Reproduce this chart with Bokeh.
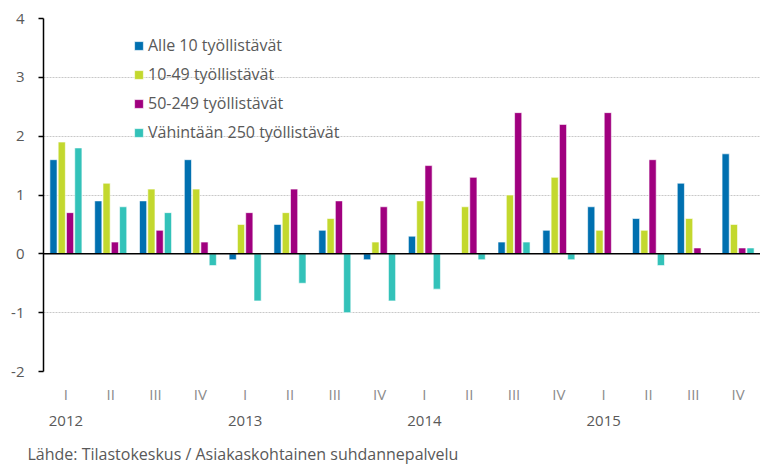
from bokeh.plotting import figure
from bokeh.models import (Range1d, FixedTicker, LinearAxis, Legend, LegendItem,
                          Span, Title, ColumnDataSource, Grid)
from bokeh.embed import file_html
from bokeh.resources import INLINE

quarters = ["I", "II", "III", "IV"] * 4
years = ["2012", "2013", "2014", "2015"]
series_names = ["Alle 10 työllistävät", "10-49 työllistävät",
                "50-249 työllistävät", "Vähintään 250 työllistävät"]
alle10 = [1.6, 0.9, 0.9, 1.6, -0.1, 0.5, 0.4, -0.1, 0.3, 0.0, 0.2, 0.4, 0.8, 0.6, 1.2, 1.7]
s10_49 = [1.9, 1.2, 1.1, 1.1, 0.5, 0.7, 0.6, 0.2, 0.9, 0.8, 1.0, 1.3, 0.4, 0.4, 0.6, 0.5]
s50_249 = [0.7, 0.2, 0.4, 0.2, 0.7, 1.1, 0.9, 0.8, 1.5, 1.3, 2.4, 2.2, 2.4, 1.6, 0.1, 0.1]
s250 = [1.8, 0.8, 0.7, -0.2, -0.8, -0.5, -1.0, -0.8, -0.6, -0.1, 0.2, -0.1, 0.0, -0.2, 0.0, 0.1]
colors = ["#0070B0", "#C3D82E", "#A0007F", "#33C2B9"]
y_ticks = [-2, -1, 0, 1, 2, 3, 4]
source_text = "Lähde: Tilastokeskus / Asiakaskohtainen suhdannepalvelu"

FONT = "Open Sans"
p = figure(frame_width=717, frame_height=353, output_backend="svg", toolbar_location=None,
           x_range=Range1d(-0.5, 15.5), y_range=Range1d(-2, 4),
           min_border_left=43, min_border_right=0, min_border_top=18,
           min_border_bottom=0, x_axis_type=None, y_axis_type=None)
p.outline_line_color = None
p.background_fill_color = "white"
p.border_fill_color = "white"

yax = LinearAxis(ticker=FixedTicker(ticks=y_ticks),
                 major_label_overrides={t: str(t) for t in y_ticks})
yax.axis_line_color = "black"
yax.axis_line_width = 1.5
yax.major_tick_line_color = "black"
yax.major_tick_line_width = 1.5
yax.major_tick_out = 5
yax.major_tick_in = 0
yax.minor_tick_line_color = None
yax.major_label_text_font = FONT
yax.major_label_text_font_size = "15px"
yax.major_label_text_color = "#595959"
yax.major_label_standoff = 14
p.add_layout(yax, "left")

idx = list(range(16))
xax = LinearAxis(ticker=FixedTicker(ticks=idx),
                 major_label_overrides={i: q for i, q in enumerate(quarters)})
xax.axis_line_color = None
xax.major_tick_line_color = None
xax.minor_tick_line_color = None
xax.major_label_text_font = FONT
xax.major_label_text_font_size = "15px"
xax.major_label_text_color = "#8C8C8C"
xax.major_label_standoff = 6
p.add_layout(xax, "below")

year_pos = [0, 4, 8, 12]
yrax = LinearAxis(ticker=FixedTicker(ticks=year_pos),
                  major_label_overrides={v: y for v, y in zip(year_pos, years)})
yrax.axis_line_color = None
yrax.major_tick_line_color = None
yrax.minor_tick_line_color = None
yrax.major_label_text_font = FONT
yrax.major_label_text_font_size = "15px"
yrax.major_label_text_color = "#595959"
yrax.major_label_standoff = 3
p.add_layout(yrax, "below")

src_title = Title(text=source_text, align="left", offset=-16, standoff=24,
                  text_font=FONT, text_font_size="16px", text_color="#595959",
                  text_font_style="normal")
p.add_layout(src_title, "below")

g = Grid(dimension=1, ticker=FixedTicker(ticks=[-2, -1, 1, 2, 3, 4]))
g.grid_line_color = "#C8C8C8"
g.grid_line_dash = "2 1"
g.grid_line_width = 1
p.add_layout(g)

p.add_layout(Span(location=0, dimension="width", line_color="black", line_width=1.5))

offsets = [-1.5, -0.5, 0.5, 1.5]
step = 0.185
bw = 0.16
items = []
for vals, col, name, off in zip([alle10, s10_49, s50_249, s250], colors, series_names, offsets):
    src = ColumnDataSource(dict(x=[i + off * step for i in idx], top=vals))
    r = p.vbar(x="x", top="top", bottom=0, width=bw, source=src,
               fill_color=col, line_color="white", line_width=0.6)
    items.append(LegendItem(label=name, renderers=[r]))

leg = Legend(items=items, location=(90, 228))
leg.background_fill_alpha = 0
leg.border_line_color = None
leg.padding = 0
leg.margin = 0
leg.spacing = 7
leg.glyph_width = 11
leg.glyph_height = 11
leg.label_height = 20
leg.label_standoff = 4
leg.label_text_font = FONT
leg.label_text_font_size = "16px"
leg.label_text_color = "#595959"
p.add_layout(leg, "center")

html = file_html(p, INLINE)
open("out.html", "w").write(html)
